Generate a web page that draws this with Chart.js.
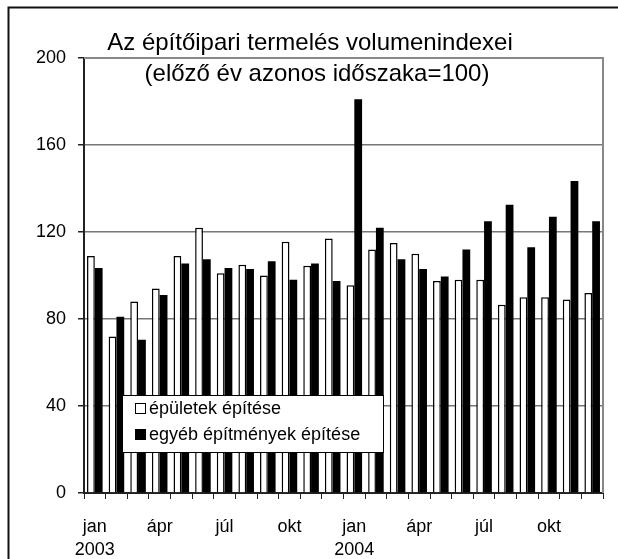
<!DOCTYPE html>
<html>
<head>
<meta charset="utf-8">
<script src="https://cdn.jsdelivr.net/npm/chart.js@4"></script>
<style>
  body { margin: 0; background: #fff; }
  canvas { display: block; }
</style>
</head>
<body>
<canvas id="chart" width="618" height="559"></canvas>
<script>
// data
const categories = [
    '2003 jan', '2003 febr', '2003 márc', '2003 ápr', '2003 máj', '2003 jún',
    '2003 júl', '2003 aug', '2003 szept', '2003 okt', '2003 nov', '2003 dec',
    '2004 jan', '2004 febr', '2004 márc', '2004 ápr', '2004 máj', '2004 jún',
    '2004 júl', '2004 aug', '2004 szept', '2004 okt', '2004 nov', '2004 dec'
];
const xTickLabels = [
    ['jan', '2003'], '', '', 'ápr', '', '', 'júl', '', '', 'okt', '', '',
    ['jan', '2004'], '', '', 'ápr', '', '', 'júl', '', '', 'okt', '', ''
];
const epuletek = [109, 72, 88, 94, 109, 122, 101, 105, 100, 115.5, 104.5, 117,
                  95.5, 112, 115, 110, 97.5, 98, 98, 86.5, 90, 90, 89, 92];
const egyeb = [103.5, 81, 70.5, 91, 105.5, 107.5, 103.5, 103, 106.5, 98, 105.5, 97.5,
               181, 122, 107.5, 103, 99.5, 112, 125, 132.5, 113, 127, 143.5, 125];
const yTicks = [0, 40, 80, 120, 160, 200];

const titleLines = ['Az építőipari termelés volumenindexei', '(előző év azonos időszaka=100)'];

Chart.defaults.font.family = '"Liberation Sans", Arial, sans-serif';
Chart.defaults.color = '#000';

// white background + the frame on top/left
const framePlugin = {
    id: 'frame',
    beforeDraw(chart) {
        const ctx = chart.ctx;
        ctx.save();
        ctx.fillStyle = '#fff';
        ctx.fillRect(0, 0, chart.width, chart.height);
        ctx.strokeStyle = '#111';
        ctx.lineWidth = 2;
        ctx.beginPath();
        ctx.moveTo(chart.width, 7.5);
        ctx.lineTo(8.5, 7.5);
        ctx.lineTo(8.5, chart.height);
        ctx.stroke();
        ctx.restore();
    },
    beforeDatasetsDraw(chart) {
        // grey border on top and right of plot area
        const a = chart.chartArea, ctx = chart.ctx;
        ctx.save();
        ctx.strokeStyle = '#888';
        ctx.lineWidth = 2;
        ctx.beginPath();
        ctx.moveTo(a.left, a.top);
        ctx.lineTo(a.right, a.top);
        ctx.lineTo(a.right, a.bottom);
        ctx.stroke();
        ctx.restore();
    }
};

// title and legend drawn over the plot
const overlayPlugin = {
    id: 'overlay',
    afterDraw(chart) {
        const ctx = chart.ctx;
        ctx.save();
        ctx.fillStyle = '#000';
        ctx.textAlign = 'center';
        ctx.textBaseline = 'middle';
        ctx.font = '24px "Liberation Sans", Arial, sans-serif';
        ctx.fillText(titleLines[0], 310, 43);
        ctx.fillText(titleLines[1], 317, 74);

        // legend box
        ctx.fillStyle = '#fff';
        ctx.fillRect(122, 395, 261, 57);
        ctx.strokeStyle = '#000';
        ctx.lineWidth = 1;
        ctx.strokeRect(122.5, 395.5, 261, 57);
        ctx.font = '18px "Liberation Sans", Arial, sans-serif';
        ctx.textAlign = 'left';
        const rows = [408, 434];
        chart.data.datasets.forEach((ds, i) => {
            const y = rows[i];
            ctx.fillStyle = ds.backgroundColor;
            ctx.fillRect(135, y - 5, 11, 11);
            ctx.strokeStyle = '#000';
            ctx.strokeRect(135.5, y - 4.5, 10, 10);
            ctx.fillStyle = '#000';
            ctx.fillText(ds.label, 149, y + 1);
        });
        ctx.restore();
    }
};

const config = {
    type: 'bar',
    data: {
        labels: categories,
        datasets: [{
            label: 'épületek építése',
            data: epuletek,
            backgroundColor: '#fff',
            borderColor: '#000',
            borderWidth: 1.5,
            categoryPercentage: 0.72,
            barPercentage: 1.0
        }, {
            label: 'egyéb építmények építése',
            data: egyeb,
            backgroundColor: '#000',
            borderColor: '#000',
            borderWidth: 0,
            categoryPercentage: 0.72,
            barPercentage: 1.0
        }]
    },
    options: {
        responsive: false,
        animation: false,
        devicePixelRatio: 1,
        layout: { padding: { top: 58, right: 15, left: 0, bottom: 0 } },
        plugins: {
            legend: { display: false },
            title: { display: false },
            tooltip: { enabled: false }
        },
        scales: {
            x: {
                afterFit(scale) { scale.height = 66; },
                grid: {
                    offset: true,
                    drawOnChartArea: false,
                    tickLength: 6,
                    color: '#222',
                    lineWidth: 1
                },
                border: { color: '#222', width: 2 },
                ticks: {
                    autoSkip: false,
                    maxRotation: 0,
                    padding: 16,
                    font: { size: 18, lineHeight: 1.3 },
                    callback: (v, i) => xTickLabels[i]
                }
            },
            y: {
                min: 0,
                max: 200,
                afterFit(scale) { scale.width = 84; },
                afterBuildTicks(scale) { scale.ticks = yTicks.map(v => ({ value: v })); },
                grid: {
                    color: '#777',
                    tickColor: '#222',
                    tickLength: 6,
                    lineWidth: 1.5
                },
                border: { color: '#222', width: 2 },
                ticks: {
                    padding: 12,
                    font: { size: 18 }
                }
            }
        }
    },
    plugins: [framePlugin, overlayPlugin]
};

new Chart(document.getElementById('chart'), config);
</script>
</body>
</html>
